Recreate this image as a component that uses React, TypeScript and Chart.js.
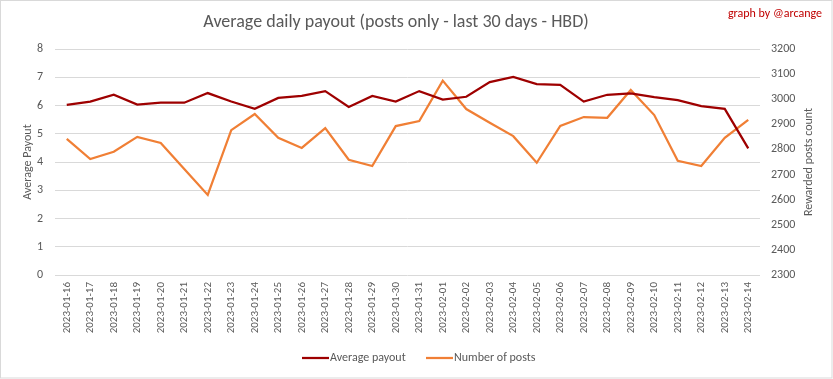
import React, { useEffect, useRef } from "react";
import { Chart, registerables } from "chart.js";

Chart.register(...registerables);

const categories = [
  "2023-01-16", "2023-01-17", "2023-01-18", "2023-01-19", "2023-01-20",
  "2023-01-21", "2023-01-22", "2023-01-23", "2023-01-24", "2023-01-25",
  "2023-01-26", "2023-01-27", "2023-01-28", "2023-01-29", "2023-01-30",
  "2023-01-31", "2023-02-01", "2023-02-02", "2023-02-03", "2023-02-04",
  "2023-02-05", "2023-02-06", "2023-02-07", "2023-02-08", "2023-02-09",
  "2023-02-10", "2023-02-11", "2023-02-12", "2023-02-13", "2023-02-14",
];

const averagePayout = [
  6.02, 6.14, 6.38, 6.03, 6.1, 6.1, 6.44, 6.14, 5.88, 6.27,
  6.34, 6.51, 5.95, 6.34, 6.14, 6.51, 6.21, 6.31, 6.83, 7.01,
  6.76, 6.73, 6.14, 6.38, 6.43, 6.3, 6.19, 5.98, 5.88, 4.48,
];

const numberOfPosts = [
  2842, 2762, 2791, 2850, 2826, 2722, 2619, 2877, 2941, 2846,
  2806, 2885, 2759, 2734, 2893, 2913, 3074, 2961, 2906, 2853,
  2747, 2894, 2929, 2926, 3037, 2937, 2755, 2734, 2846, 2918,
];

const leftTicks = [0, 1, 2, 3, 4, 5, 6, 7, 8];
const rightTicks = [2300, 2400, 2500, 2600, 2700, 2800, 2900, 3000, 3100, 3200];

const TEXT = "#595959";
const GRID = "#D9D9D9";
const RED = "#9E0000";
const ORANGE = "#F07F35";
const FONT = "Carlito, 'Liberation Sans', Arial, sans-serif";

const W = 833;
const H = 379;
const PLOT_LEFT = 55;
const PLOT_RIGHT = 760;
const PLOT_TOP = 49;
const PLOT_BOTTOM = 275;

const decorPlugin = {
  id: "decor",
  afterDraw(chart: any) {
    const ctx = chart.ctx;
    ctx.save();
    ctx.strokeStyle = GRID;
    ctx.lineWidth = 1;
    ctx.strokeRect(0.5, 0.5, W - 1.5, H - 1.5);

    ctx.fillStyle = TEXT;
    ctx.font = `18px ${FONT}`;
    ctx.textAlign = "center";
    ctx.textBaseline = "middle";
    ctx.fillText("Average daily payout (posts only - last 30 days - HBD)", 396, 22);

    ctx.fillStyle = "#C00000";
    ctx.font = `12px ${FONT}`;
    ctx.textAlign = "right";
    ctx.fillText("graph by @arcange", 822, 14);

    // axis titles (both read bottom-to-top)
    ctx.fillStyle = TEXT;
    ctx.font = `12px ${FONT}`;
    ctx.textAlign = "center";
    const midY = (chart.chartArea.top + chart.chartArea.bottom) / 2;
    ctx.save();
    ctx.translate(28, midY);
    ctx.rotate(-Math.PI / 2);
    ctx.fillText("Average Payout", 0, 0);
    ctx.restore();
    ctx.save();
    ctx.translate(809, midY);
    ctx.rotate(-Math.PI / 2);
    ctx.fillText("Rewarded posts count", 0, 0);
    ctx.restore();

    // legend
    const ly = 358;
    const items = [
      { label: "Average payout", color: RED, x: 302 },
      { label: "Number of posts", color: ORANGE, x: 426 },
    ];
    ctx.textAlign = "left";
    ctx.font = `12px ${FONT}`;
    for (const it of items) {
      ctx.strokeStyle = it.color;
      ctx.lineWidth = 2.25;
      ctx.beginPath();
      ctx.moveTo(it.x, ly);
      ctx.lineTo(it.x + 27, ly);
      ctx.stroke();
      ctx.fillStyle = TEXT;
      ctx.fillText(it.label, it.x + 28, ly);
    }
    ctx.restore();
  },
};

export default function App() {
  const ref = useRef<HTMLCanvasElement>(null);
  useEffect(() => {
    document.body.style.margin = "0";
    const canvas = ref.current!;
    const chart = new Chart(canvas, {
      type: "line",
      data: {
        labels: categories,
        datasets: [
          {
            label: "Average payout",
            data: averagePayout,
            borderColor: RED,
            backgroundColor: RED,
            borderWidth: 2.25,
            pointRadius: 0,
            tension: 0,
            yAxisID: "y",
          },
          {
            label: "Number of posts",
            data: numberOfPosts,
            borderColor: ORANGE,
            backgroundColor: ORANGE,
            borderWidth: 2.25,
            pointRadius: 0,
            tension: 0,
            yAxisID: "y1",
          },
        ],
      },
      options: {
        animation: false,
        responsive: false,
        devicePixelRatio: 1,
        layout: { padding: { top: PLOT_TOP, left: 0, right: 0, bottom: 0 } },
        plugins: {
          title: { display: false },
          tooltip: { enabled: false },
          legend: { display: false },
        },
        scales: {
          x: {
            offset: true,
            grid: { display: false, drawTicks: false },
            border: { display: false },
            ticks: {
              color: TEXT,
              font: { family: FONT, size: 11 },
              maxRotation: 90,
              minRotation: 90,
              autoSkip: false,
              padding: 7,
            },
            afterFit(scale: any) {
              scale.height = H - PLOT_BOTTOM;
            },
          },
          y: {
            position: "left",
            min: 0,
            max: 8,
            afterBuildTicks(scale: any) {
              scale.ticks = leftTicks.map((v) => ({ value: v }));
            },
            grid: { color: GRID, drawTicks: false, lineWidth: 1 },
            border: { display: false },
            ticks: {
              color: TEXT,
              font: { family: FONT, size: 12 },
              padding: 12,
            },
            afterFit(scale: any) {
              scale.width = PLOT_LEFT;
            },
          },
          y1: {
            position: "right",
            min: 2300,
            max: 3200,
            afterBuildTicks(scale: any) {
              scale.ticks = rightTicks.map((v) => ({ value: v }));
            },
            grid: { display: false, drawTicks: false },
            border: { display: false },
            ticks: {
              color: TEXT,
              font: { family: FONT, size: 12 },
              padding: 11,
              callback: (v: any) => String(v),
            },
            afterFit(scale: any) {
              scale.width = W - PLOT_RIGHT;
            },
          },
        },
      },
      plugins: [decorPlugin],
    } as any);
    return () => chart.destroy();
  }, []);
  return (
    <div style={{ width: W, height: H, background: "#fff" }}>
      <canvas ref={ref} width={W} height={H} style={{ display: "block" }} />
    </div>
  );
}
